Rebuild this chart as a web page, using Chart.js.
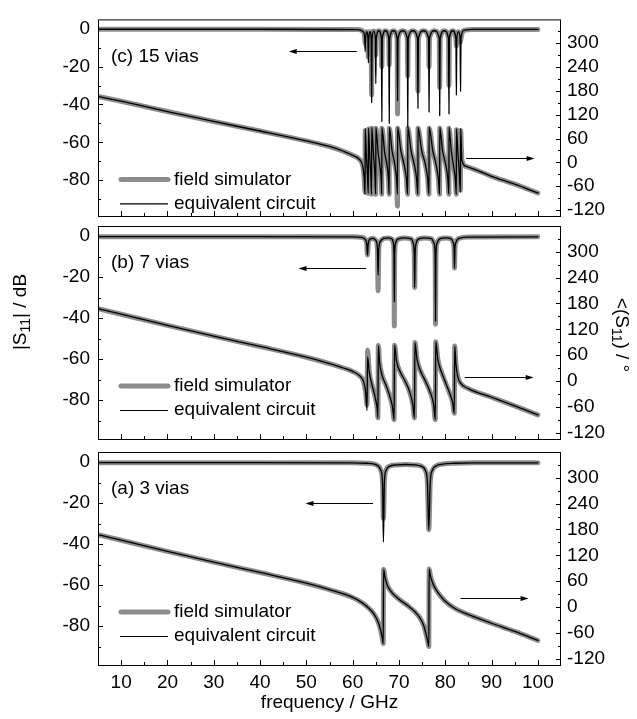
<!DOCTYPE html>
<html>
<head>
<meta charset="utf-8">
<script src="https://cdn.jsdelivr.net/npm/chart.js@4.4.1/dist/chart.umd.min.js"></script>
<style>
  body { margin: 0; background: #fff; }
  #wrap { position: relative; width: 637px; height: 719px; }
  #wrap canvas { position: absolute; left: 0; top: 0; }
</style>
</head>
<body>
<div id="wrap">
  <canvas id="panelC" width="637" height="719"></canvas>
  <canvas id="panelB" width="637" height="719"></canvas>
  <canvas id="panelA" width="637" height="719"></canvas>
</div>
<script>
// axis ticks
const freqTicks = [10, 20, 30, 40, 50, 60, 70, 80, 90, 100];
const freqMinor = [15, 25, 35, 45, 55, 65, 75, 85, 95];
const dbTicks = [0, -20, -40, -60, -80];
const dbMinor = [-10, -30, -50, -70, -90];
const phaseTicks = [300, 240, 180, 120, 60, 0, -60, -120];
const phaseMinor = [330, 270, 210, 150, 90, 30, -30, -90];

// (a) 3 vias - |S11| in dB
const magFreqA = [5, 40, 60, 63, 64.5, 65.5, 66.1, 66.45, 66.65, 66.85, 67.2, 67.9, 69.5, 71.5, 73.5, 74.9, 75.7, 76.15, 76.45, 76.75, 77.2, 78, 79.5, 82, 86, 100];
const magSimA = [-0.2, -0.2, -0.3, -0.5, -0.8, -1.8, -4, -10, -27.5, -10, -4, -2, -1.3, -1.1, -1.3, -2, -4, -10, -33, -10, -4, -1.8, -0.9, -0.5, -0.3, -0.3];
const magCirA = [-0.2, -0.2, -0.3, -0.5, -0.8, -1.8, -4, -10, -39, -10, -4, -2, -1.3, -1.1, -1.3, -2, -4, -10, -33, -10, -4, -1.8, -0.9, -0.5, -0.3, -0.3];
// (a) phase in degrees
const phFreqA = [5, 10, 20, 30, 40, 50, 55, 60, 62, 63.5, 64.5, 65.3, 66, 66.4, 66.6, 66.68, 67, 67.5, 68.5, 70, 72, 73.5, 74.5, 75.3, 75.9, 76.3, 76.45, 76.52, 76.8, 77.3, 78, 79, 80, 82, 85, 90, 95, 100];
const phSimA = [168, 155, 129, 104, 80, 55, 40, 22, 10, -3, -15, -30, -52, -72, -85, 87, 68, 50, 33, 18, 2, -12, -25, -42, -65, -85, -92, 88, 72, 55, 40, 25, 13, -3, -18, -38, -57, -78];
const phCirA = [168, 155, 129, 104, 80, 55, 40, 22, 10, -3, -15, -30, -52, -72, -85, 87, 68, 50, 33, 18, 2, -12, -25, -42, -65, -85, -92, 88, 72, 55, 40, 25, 13, -3, -18, -38, -57, -78];

// (b) 7 vias
const magFreqB = [5, 40, 60, 62, 62.7, 63.05, 63.2, 63.35, 63.7, 64.4, 65.0, 65.35, 65.5, 65.65, 66.0, 66.7, 67.6, 68.4, 68.8, 68.93, 69.0, 69.07, 69.25, 70.0, 71.2, 72.5, 73.1, 73.3, 73.4, 73.5, 73.7, 74.4, 75.6, 77.0, 77.6, 77.82, 77.9, 77.98, 78.2, 78.9, 80.1, 81.2, 81.7, 81.9, 82.0, 82.1, 82.3, 83.0, 85, 100];
const magSimB = [-0.2, -0.2, -0.3, -0.6, -1.5, -4, -9.2, -4, -1.5, -1, -2, -6, -26.6, -6, -2.5, -1, -0.8, -1.2, -3.5, -10, -43.8, -10, -3.5, -1.2, -0.8, -1.2, -3.5, -9, -25, -9, -3.5, -1.2, -0.8, -1.2, -3.5, -10, -43, -10, -3.5, -1.2, -0.8, -1.2, -3, -6, -15.5, -6, -3, -1, -0.4, -0.3];
const magCirB = [-0.2, -0.2, -0.3, -0.6, -1.5, -4, -9.2, -4, -1.5, -1, -2, -6, -19, -6, -2.5, -1, -0.8, -1.2, -3.5, -10, -32, -10, -3.5, -1.2, -0.8, -1.2, -3.5, -9, -25, -9, -3.5, -1.2, -0.8, -1.2, -3.5, -10, -41.5, -10, -3.5, -1.2, -0.8, -1.2, -3, -6, -15.5, -6, -3, -1, -0.4, -0.3];
const phFreqB = [5, 10, 20, 30, 40, 50, 55, 58, 60, 61.5, 62.3, 62.8, 63.1, 63.22, 63.6, 64.2, 64.9, 65.3, 65.45, 65.55, 65.8, 66.3, 67.2, 68.0, 68.6, 68.95, 69.05, 69.5, 70.3, 71.3, 72.3, 73.0, 73.35, 73.45, 73.9, 74.7, 75.7, 76.7, 77.5, 77.85, 77.95, 78.4, 79.2, 80.1, 81.0, 81.6, 81.95, 82.05, 82.3, 82.7, 83.3, 85, 90, 95, 100];
const phSimB = [168, 155, 129, 104, 80, 55, 40, 30, 22, 12, 0, -25, -56, 72, 20, -10, -40, -65, -86, 82, 45, 15, -10, -35, -60, -90, 83, 45, 20, 0, -25, -55, -86, 89, 50, 22, 0, -25, -55, -90, 91, 50, 20, -5, -30, -50, -75, 81, 40, 10, -5, -18, -38, -58, -79];
const phCirB = [168, 155, 129, 104, 80, 55, 40, 30, 22, 12, 0, -25, -69, 56, 20, -10, -40, -65, -86, 82, 45, 15, -10, -35, -60, -90, 83, 45, 20, 0, -25, -55, -86, 89, 50, 22, 0, -25, -55, -90, 91, 50, 20, -5, -30, -50, -75, 81, 40, 10, -5, -18, -38, -58, -79];

// (c) 15 vias
const magFreqC = [5, 40, 61, 62.3, 62.6, 62.7, 62.8, 63.05, 63.3, 63.4, 63.5, 63.75, 64.0, 64.1, 64.2, 64.55, 64.9, 65.0, 65.1, 65.65, 66.2, 66.3, 66.4, 67.1, 67.8, 67.9, 68.0, 68.8, 69.6, 69.7, 69.8, 70.8, 71.8, 71.9, 72.0, 73.0, 74.0, 74.1, 74.2, 75.3, 76.4, 76.5, 76.6, 77.65, 78.7, 78.8, 78.9, 79.8, 80.7, 80.8, 80.9, 81.6, 82.3, 82.4, 82.5, 82.85, 83.2, 83.3, 83.4, 84, 86, 100];
const magSimC = [-0.2, -0.2, -0.4, -1.5, -5, -8, -5, -1.5, -5, -15, -5, -1.5, -5, -35, -5, -1.2, -5, -14, -5, -1, -5, -20, -5, -1, -5, -19, -5, -1, -5, -45, -5, -1, -5, -25, -5, -1, -5, -33, -5, -1, -5, -20, -5, -1, -5, -31, -5, -1, -5, -30, -5, -1, -5, -9, -5, -1.5, -5, -7, -5, -0.8, -0.3, -0.3];
const magCirC = [-0.2, -0.2, -0.4, -1.5, -5, -12, -5, -1.5, -5, -18, -5, -1.5, -5, -39, -5, -1.2, -5, -29, -5, -1, -5, -49, -5, -1, -5, -50, -5, -1, -5, -38, -5, -1, -5, -52, -5, -1, -5, -42, -5, -1, -5, -44, -5, -1, -5, -46, -5, -1, -5, -45, -5, -1, -5, -35, -5, -1.5, -5, -33, -5, -0.8, -0.3, -0.3];
const phFreqC = [5, 10, 20, 30, 40, 50, 55, 58, 60, 61.5, 62.2, 62.5, 62.68, 62.72, 62.95, 63.2, 63.38, 63.42, 63.7, 63.95, 64.08, 64.12, 64.5, 64.8, 64.98, 65.02, 65.5, 65.9, 66.2, 66.28, 66.32, 66.9, 67.4, 67.75, 67.88, 67.92, 68.5, 69.1, 69.5, 69.68, 69.72, 70.4, 71.1, 71.6, 71.88, 71.92, 72.6, 73.3, 73.8, 74.08, 74.12, 74.9, 75.7, 76.2, 76.48, 76.52, 77.3, 78.0, 78.5, 78.78, 78.82, 79.4, 80.1, 80.55, 80.78, 80.82, 81.3, 81.8, 82.2, 82.38, 82.42, 82.7, 83.0, 83.28, 83.32, 83.6, 84.5, 90, 95, 100];
const phSimC = [166, 154, 128, 103, 79, 54, 40, 28, 18, 7, -10, -40, -75, 80, 20, -30, -78, 84, 15, -40, -80, 86, 20, -30, -80, 86, 25, -10, -50, -80, 86, 25, -5, -45, -80, 86, 30, -5, -45, -110, 86, 30, -5, -40, -80, 86, 30, -5, -40, -80, 86, 30, -5, -40, -80, 86, 30, -5, -40, -80, 86, 30, -5, -40, -80, 86, 30, -10, -45, -80, 82, 30, -20, -70, 80, 5, -10, -35, -55, -77];
const phCirC = [166, 154, 128, 103, 79, 54, 40, 28, 18, 7, -10, -40, -80, 85, 20, -30, -78, 86, 15, -40, -80, 88, 20, -30, -80, 88, 25, -10, -50, -80, 88, 25, -5, -45, -80, 88, 30, -5, -45, -80, 88, 30, -5, -40, -80, 88, 30, -5, -40, -80, 88, 30, -5, -40, -80, 88, 30, -5, -40, -80, 88, 30, -5, -40, -80, 88, 30, -10, -45, -80, 85, 30, -20, -75, 85, 5, -10, -35, -55, -77];

const FONT = 'Liberation Sans, Arial, Helvetica, sans-serif';
const FS = 19;
Chart.defaults.font.family = FONT;
Chart.defaults.font.size = FS;
Chart.defaults.color = '#000';

const pts = (xs, ys) => xs.map((x, i) => ({ x: x, y: ys[i] }));

function line(data, axis, gray) {
  return {
    data: data,
    yAxisID: axis,
    borderColor: gray ? '#8c8c8c' : '#000',
    borderWidth: gray ? 5 : 1.3,
    pointRadius: 0,
    cubicInterpolationMode: 'monotone',
    borderJoinStyle: 'round',
    borderCapStyle: 'round',
    fill: false,
    order: gray ? 1 : 0
  };
}

// draws text with a subscript part, centred on 0,0 of current transform
function subText(ctx, parts) {
  let w = 0;
  parts.forEach(p => { ctx.font = p[1] + 'px ' + FONT; w += ctx.measureText(p[0]).width; });
  let x = -w / 2;
  parts.forEach(p => {
    ctx.font = p[1] + 'px ' + FONT;
    ctx.fillText(p[0], x, p[2]);
    x += ctx.measureText(p[0]).width;
  });
}

function arrow(ctx, x1, x2, y) {
  const dir = x2 > x1 ? 1 : -1;
  ctx.beginPath();
  ctx.moveTo(x1, y);
  ctx.lineTo(x2 - dir * 6, y);
  ctx.stroke();
  ctx.beginPath();
  ctx.moveTo(x2, y);
  ctx.lineTo(x2 - dir * 8, y - 2.5);
  ctx.lineTo(x2 - dir * 8, y + 2.5);
  ctx.closePath();
  ctx.fill();
}

const decor = {
  id: 'decor',
  afterDraw(chart, args, o) {
    const { ctx, chartArea: a, scales } = chart;
    ctx.save();
    ctx.strokeStyle = '#000';
    ctx.fillStyle = '#000';
    ctx.lineWidth = 1;
    ctx.strokeRect(a.left + 0.5, a.top + 0.5, a.right - a.left - 1, a.bottom - a.top);

    const tk = (x1, y1, x2, y2) => { ctx.beginPath(); ctx.moveTo(x1, y1); ctx.lineTo(x2, y2); ctx.stroke(); };
    dbTicks.forEach(v => { const y = Math.round(scales.y.getPixelForValue(v)) + 0.5; tk(a.left, y, a.left + 5, y); });
    dbMinor.forEach(v => { const y = Math.round(scales.y.getPixelForValue(v)) + 0.5; tk(a.left, y, a.left + 3, y); });
    phaseTicks.forEach(v => { const y = Math.round(scales.y2.getPixelForValue(v)) + 0.5; tk(a.right, y, a.right - 5, y); });
    phaseMinor.forEach(v => { const y = Math.round(scales.y2.getPixelForValue(v)) + 0.5; tk(a.right, y, a.right - 3, y); });
    freqTicks.forEach(v => { const x = Math.round(scales.x.getPixelForValue(v)) + 0.5; tk(x, a.bottom, x, a.bottom - 5); });
    freqMinor.forEach(v => { const x = Math.round(scales.x.getPixelForValue(v)) + 0.5; tk(x, a.bottom, x, a.bottom - 3); });

    // panel label
    ctx.font = FS + 'px ' + FONT;
    ctx.textBaseline = 'middle';
    ctx.textAlign = 'left';
    ctx.fillText(o.label, a.left + 13, a.top + 37);

    // legend
    ctx.strokeStyle = '#8c8c8c';
    ctx.lineWidth = 5;
    ctx.lineCap = 'round';
    tk(a.left + 23, a.top + 160, a.left + 70, a.top + 160);
    ctx.strokeStyle = '#000';
    ctx.lineWidth = 1.2;
    ctx.lineCap = 'butt';
    tk(a.left + 22, a.top + 184.5, a.left + 70, a.top + 184.5);
    ctx.fillText('field simulator', a.left + 76, a.top + 160);
    ctx.fillText('equivalent circuit', a.left + 76, a.top + 184);

    // arrows pointing to the axis each curve belongs to
    ctx.lineWidth = 1;
    o.arrows.forEach(r => {
      const y = Math.round(scales[r.axis].getPixelForValue(r.y)) + 0.5;
      arrow(ctx, scales.x.getPixelForValue(r.from), scales.x.getPixelForValue(r.to), y);
    });

    if (o.titles) {
      ctx.textAlign = 'left';
      ctx.textBaseline = 'middle';
      ctx.save();
      ctx.translate(21, 312);
      ctx.rotate(-Math.PI / 2);
      subText(ctx, [['|S', FS, 0], ['11', 14, 5], ['| / dB', FS, 0]]);
      ctx.restore();
      ctx.save();
      ctx.translate(621, 335);
      ctx.rotate(Math.PI / 2);
      subText(ctx, [['<(S', FS, 0], ['11', 14, 5], [') / °', FS, 0]]);
      ctx.restore();
    }
    if (o.xTitle) {
      ctx.font = FS + 'px ' + FONT;
      ctx.textAlign = 'center';
      ctx.fillText('frequency / GHz', (a.left + a.right) / 2, 703);
    }
    ctx.restore();
  }
};

function makePanel(id, top, bottom, showX, d, extra) {
  new Chart(document.getElementById(id), {
    type: 'line',
    data: {
      datasets: [
        line(pts(d.magF, d.magCir), 'y', false),
        line(pts(d.phF, d.phCir), 'y2', false),
        line(pts(d.magF, d.magSim), 'y', true),
        line(pts(d.phF, d.phSim), 'y2', true)
      ]
    },
    options: {
      responsive: false,
      animation: false,
      devicePixelRatio: 1,
      events: [],
      layout: { padding: { top: top, left: 0, right: 0, bottom: 0 } },
      plugins: {
        legend: { display: false },
        tooltip: { enabled: false },
        decor: Object.assign({ label: d.label, arrows: d.arrows }, extra)
      },
      scales: {
        x: {
          type: 'linear', min: 5, max: 105,
          grid: { display: false, drawTicks: false },
          border: { display: false },
          afterBuildTicks: s => { s.ticks = freqTicks.map(v => ({ value: v })); },
          ticks: { display: showX, padding: 6, maxRotation: 0, autoSkip: false },
          afterFit: s => { s.height = 719 - bottom; }
        },
        y: {
          position: 'left', min: -99, max: 5,
          grid: { display: false, drawTicks: false },
          border: { display: false },
          afterBuildTicks: s => { s.ticks = dbTicks.map(v => ({ value: v })); },
          ticks: { padding: 8 },
          afterFit: s => { s.width = 98; }
        },
        y2: {
          position: 'right', min: -135, max: 360,
          grid: { display: false, drawTicks: false },
          border: { display: false },
          afterBuildTicks: s => { s.ticks = phaseTicks.map(v => ({ value: v })); },
          ticks: { padding: 6 },
          afterFit: s => { s.width = 76; }
        }
      }
    },
    plugins: [decor]
  });
}

makePanel('panelC', 6, 216, false, {
  label: '(c) 15 vias',
  magF: magFreqC, magSim: magSimC, magCir: magCirC,
  phF: phFreqC, phSim: phSimC, phCir: phCirC,
  arrows: [{ axis: 'y', y: -11.5, from: 60.9, to: 46.2 }, { axis: 'y2', y: 11, from: 84.5, to: 99.3 }]
}, {});
makePanel('panelB', 226, 439, false, {
  label: '(b) 7 vias',
  magF: magFreqB, magSim: magSimB, magCir: magCirB,
  phF: phFreqB, phSim: phSimB, phCir: phCirB,
  arrows: [{ axis: 'y', y: -15.7, from: 62.9, to: 48.3 }, { axis: 'y2', y: 10, from: 84.2, to: 99.1 }]
}, { titles: true });
makePanel('panelA', 452, 665, true, {
  label: '(a) 3 vias',
  magF: magFreqA, magSim: magSimA, magCir: magCirA,
  phF: phFreqA, phSim: phSimA, phCir: phCirA,
  arrows: [{ axis: 'y', y: -20, from: 64.4, to: 49.8 }, { axis: 'y2', y: 21, from: 83.3, to: 98 }]
}, { xTitle: true });
</script>
</body>
</html>
